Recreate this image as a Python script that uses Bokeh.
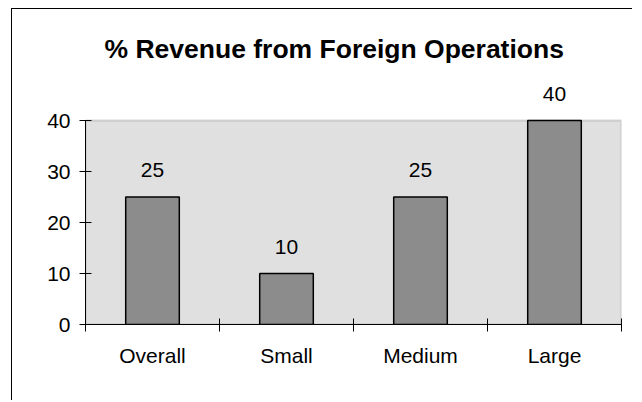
from bokeh.plotting import figure
from bokeh.models import Range1d, FixedTicker, LabelSet, ColumnDataSource, BoxAnnotation
from bokeh.core.properties import value
from bokeh.embed import file_html
from bokeh.resources import INLINE

categories = ["Overall", "Small", "Medium", "Large"]
values = [25, 10, 25, 40]
y_ticks = [0, 10, 20, 30, 40]
title_text = "% Revenue from Foreign Operations"

FONT = "Liberation Sans"

n = len(categories)
ymax = max(y_ticks)
centers = [i + 0.5 for i in range(n)]
src = ColumnDataSource(dict(x=centers, top=values, label=[str(v) for v in values]))

p = figure(width=621, height=392,
           x_range=Range1d(0, n), y_range=Range1d(0, ymax * 1.25),
           output_backend="svg", toolbar_location=None,
           min_border_left=73, min_border_right=12, min_border_top=60, min_border_bottom=77)

p.styles = {"border-top": "1px solid black", "border-left": "1px solid black",
            "margin-left": "11px", "margin-top": "8px"}

p.background_fill_color = "white"
p.border_fill_color = "white"
p.outline_line_color = None
p.xgrid.visible = False
p.ygrid.visible = False

# plot area (0..n, 0..ymax)
area = BoxAnnotation(left=0, right=n, bottom=0, top=ymax, level="underlay",
                     fill_color="#e0e0e0", fill_alpha=1.0,
                     line_color="#808080", line_width=2)
p.add_layout(area)

p.vbar(x="x", top="top", width=0.4, source=src,
       fill_color="#8c8c8c", line_color="black", line_width=1.5)

labels = LabelSet(x="x", y="top", text="label", source=src,
                  text_align="center", text_baseline="alphabetic", y_offset=20,
                  text_font=value(FONT), text_font_size="21px", text_color="black")
p.add_layout(labels)

# y axis
p.yaxis.ticker = FixedTicker(ticks=y_ticks)
p.yaxis.bounds = (0, ymax)
p.yaxis.major_tick_in = 6
p.yaxis.major_tick_out = 6
p.yaxis.minor_tick_line_color = None
p.yaxis.axis_line_color = "black"
p.yaxis.major_tick_line_color = "black"
p.yaxis.major_label_text_font = FONT
p.yaxis.major_label_text_font_size = "21px"
p.yaxis.major_label_text_color = "black"
p.yaxis.major_label_standoff = 9

# x axis: labels between boundary ticks
p.xaxis.ticker = FixedTicker(ticks=centers, minor_ticks=list(range(n + 1)))
p.xaxis.bounds = (0, n)
p.xaxis.major_label_overrides = {c: name for c, name in zip(centers, categories)}
p.xaxis.major_tick_line_color = None
p.xaxis.minor_tick_line_color = "black"
p.xaxis.minor_tick_in = 6
p.xaxis.minor_tick_out = 7
p.xaxis.axis_line_color = "black"
p.xaxis.major_label_text_font = FONT
p.xaxis.major_label_text_font_size = "21px"
p.xaxis.major_label_text_color = "black"
p.xaxis.major_label_standoff = 12

p.title.text = title_text
p.title.text_font = FONT
p.title.text_font_style = "bold"
p.title.text_font_size = "26.5px"
p.title.text_color = "black"
p.title.align = "left"
p.title.offset = 19
p.title.standoff = 12

open("out.html", "w").write(file_html(p, INLINE))
